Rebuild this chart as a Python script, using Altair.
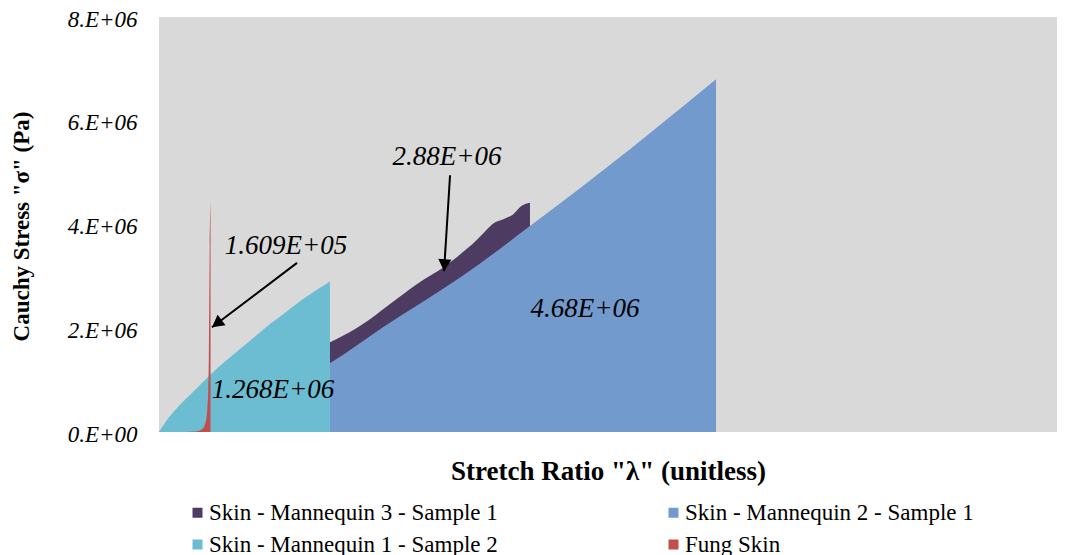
import altair as alt
import pandas as pd

SERIES = ["Skin - Mannequin 3 - Sample 1", "Skin - Mannequin 2 - Sample 1",
          "Skin - Mannequin 1 - Sample 2", "Fung Skin"]
COLORS = ["#4E3B62", "#729ACC", "#6CBDD2", "#C0504D"]
# legend fills column by column: list entries so rows read M3, M2 / M1, Fung
LEGEND_ORDER = [SERIES[0], SERIES[2], SERIES[1], SERIES[3]]
LEGEND_COLORS = [COLORS[0], COLORS[2], COLORS[1], COLORS[3]]

# Skin - Mannequin 3 - Sample 1
m3_stretch = [1.0000, 1.1013, 1.1915, 1.2127, 1.2313, 1.2536, 1.2684, 1.2870, 1.3055,
              1.3166, 1.3352, 1.3538, 1.3649, 1.3723, 1.3834, 1.3946, 1.4039, 1.4131]
m3_stress = [0.0, 0.90, 1.74, 1.93, 2.13, 2.42, 2.61, 2.85, 3.05,
             3.17, 3.42, 3.70, 3.90, 4.02, 4.10, 4.20, 4.36, 4.42]

# Skin - Mannequin 2 - Sample 1
m2_stretch = [1.0000, 1.1013, 1.1915, 1.2494, 1.3163, 1.3575, 1.4131, 1.4688, 1.5245, 1.5802, 1.6203]
m2_stress = [0.0, 0.62, 1.34, 2.02, 2.76, 3.25, 3.97, 4.70, 5.45, 6.23, 6.80]

# Skin - Mannequin 1 - Sample 2
m1_stretch = [1.0000, 1.0045, 1.0100, 1.0178, 1.0290, 1.0423, 1.0568, 1.0735, 1.0902,
              1.1069, 1.1236, 1.1403, 1.1570, 1.1737, 1.1849, 1.1904]
m1_stress = [0.0, 0.12, 0.26, 0.42, 0.62, 0.85, 1.10, 1.36, 1.60,
             1.84, 2.08, 2.30, 2.52, 2.72, 2.84, 2.90]

# Fung Skin
fung_stretch = [1.02900, 1.04009, 1.04566, 1.04900, 1.05122, 1.05290, 1.05401,
                1.05490, 1.05546, 1.05585, 1.05650, 1.05740]
fung_stress = [0.0, 0.01, 0.03, 0.07, 0.15, 0.28, 0.50, 0.85, 1.40, 2.30, 3.60, 4.46]

# annotations (stretch, stress in 1e6 Pa)
ann_text = ["2.88E+06", "1.609E+05", "4.68E+06", "1.268E+06"]
ann_x = [1.3207, 1.1414, 1.4744, 1.1269]
ann_y = [5.30, 3.59, 2.37, 0.81]

arrow_x = [1.3241, 1.1537]
arrow_y = [4.95, 3.26]
arrow_x2 = [1.3174, 1.0590]
arrow_y2 = [3.10, 2.02]
arrow_angle = [4, 53]

rows = []
for name, xs, ys in zip(SERIES, [m3_stretch, m2_stretch, m1_stretch, fung_stretch],
                        [m3_stress, m2_stress, m1_stress, fung_stress]):
    for x, y in zip(xs, ys):
        rows.append({"series": name, "stretch": x, "stress": y * 1e6})
df = pd.DataFrame(rows)

ann_df = pd.DataFrame({"t": ann_text, "x": ann_x, "y": [v * 1e6 for v in ann_y]})
arr_df = pd.DataFrame({"x": arrow_x, "y": [v * 1e6 for v in arrow_y],
                       "x2": arrow_x2, "y2": [v * 1e6 for v in arrow_y2],
                       "a": arrow_angle})

FONT = "'Liberation Serif', 'Times New Roman', Times, serif"
xscale = alt.Scale(domain=[1.0, 2.0], nice=False, zero=False)
yscale = alt.Scale(domain=[0, 8e6], nice=False)

color = alt.Color(
    "series:N",
    scale=alt.Scale(domain=LEGEND_ORDER, range=LEGEND_COLORS),
    legend=alt.Legend(
        title=None, orient="none", legendX=27, legendY=484, columns=2,
        columnPadding=164, rowPadding=8, symbolType="square", symbolSize=100,
        symbolStrokeWidth=0, labelFont=FONT, labelFontSize=23, labelColor="#000000",
        labelOffset=0, labelLimit=400, padding=0,
    ),
)

base = alt.Chart(df)
areas = []
for i, name in enumerate(SERIES):
    enc = dict(
        x=alt.X("stretch:Q", scale=xscale,
                axis=alt.Axis(title='Stretch Ratio "λ" (unitless)', labels=False, ticks=False,
                              domain=False, grid=False, titleFont=FONT, titleFontSize=27,
                              titleFontWeight="bold", titleColor="#000000",
                              titleBaseline="alphabetic", titleY=47)),
        y=alt.Y("stress:Q", scale=yscale,
                axis=alt.Axis(title='Cauchy Stress "σ" (Pa)', values=[0, 2e6, 4e6, 6e6, 8e6],
                              labelExpr="datum.value == 0 ? '0.E+00' : (datum.value/1e6) + '.E+06'",
                              ticks=False, domain=False, grid=False, labelPadding=22,
                              labelOffset=2,
                              labelFont=FONT, labelFontSize=23, labelFontStyle="italic",
                              labelColor="#000000", titleFont=FONT, titleFontSize=23,
                              titleFontWeight="bold", titleColor="#000000",
                              titleBaseline="alphabetic", titleX=-131, titleY=209)),
        color=color,
    )
    areas.append(
        base.transform_filter(alt.datum.series == name)
        .mark_area(opacity=1, interpolate="monotone")
        .encode(**enc)
    )

texts = alt.Chart(ann_df).mark_text(font=FONT, fontSize=27, fontStyle="italic",
                                    color="#000000", align="center", baseline="middle").encode(
    x=alt.X("x:Q", scale=xscale), y=alt.Y("y:Q", scale=yscale), text="t:N")

lines = alt.Chart(arr_df).mark_rule(color="#000000", strokeWidth=2).encode(
    x=alt.X("x:Q", scale=xscale), y=alt.Y("y:Q", scale=yscale),
    x2="x2:Q", y2="y2:Q")

heads = alt.Chart(arr_df).mark_point(
    shape="M0,0L-0.55,-1L0.55,-1Z", filled=True, color="#000000", opacity=1, size=576,
    strokeWidth=0).encode(
    x=alt.X("x2:Q", scale=xscale), y=alt.Y("y2:Q", scale=yscale), angle=alt.Angle("a:Q", scale=None))

chart = alt.layer(*areas, lines, heads, texts).properties(
    width=898, height=415,
    background="#FFFFFF",
    autosize=alt.AutoSizeParams(type="none"),
    padding={"left": 151, "top": 9, "right": 0, "bottom": 123},
).configure_view(fill="#D9D9D9", strokeWidth=0)

chart.save("out.html", embed_options={"renderer": "svg", "actions": False})
